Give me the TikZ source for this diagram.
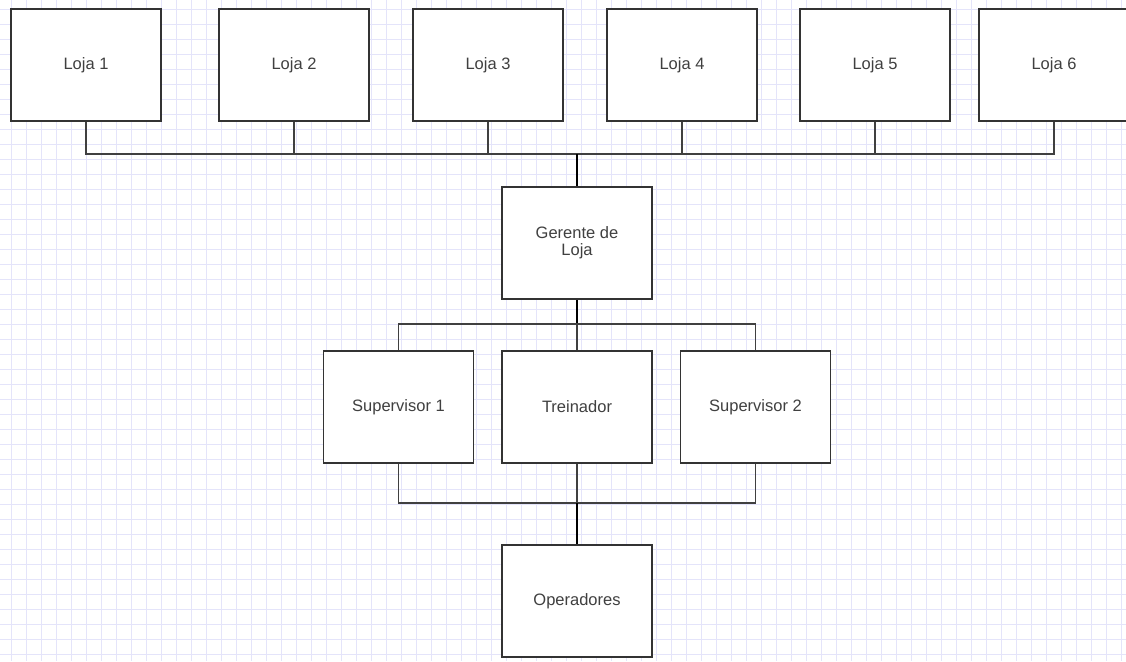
\documentclass[tikz,border=0pt]{standalone}
\usepackage{fontspec}
\setmainfont{Liberation Sans}
\usetikzlibrary{positioning}
\definecolor{gridcol}{RGB}{228,228,250}

\begin{document}
\begin{tikzpicture}[x=1pt,y=-1pt]
\tikzstyle{box}=[draw=black!80, line width=1.6pt, fill=white,
	minimum width=150pt, minimum height=112pt, text=black!75,
	font=\fontsize{16.5}{17}\selectfont, align=center]
\tikzstyle{wire}=[draw=black!75, line width=1.1pt]
\tikzstyle{trunk}=[draw=black, line width=1.7pt]
\tikzstyle{gridline}=[draw=gridcol, line width=0.9pt]
\useasboundingbox (0,0) rectangle (1126,661);
\clip (0,0) rectangle (1126,661);
% background grid
\foreach \gx in {11,26,...,1126} \draw[gridline] (\gx,0) -- (\gx,661);
\foreach \gy in {9,24,...,661} \draw[gridline] (0,\gy) -- (1126,\gy);
% stores
\foreach \n/\cx in {1/86,2/294,3/488,4/682,5/875,6/1054}
	\node[box] (loja\n) at (\cx,65) {Loja \n};
\node[box] (gerente) at (577,243) {Gerente de\\Loja};
\node[box] (sup1) at (398.5,407) {Supervisor 1};
\node[box] (treinador) at (577,407) {Treinador};
\node[box] (sup2) at (755.5,407) {Supervisor 2};
\node[box] (operadores) at (577,601) {Operadores};
% buses
\coordinate (busA) at (577,154);
\coordinate (busB) at (577,324);
\coordinate (busC) at (577,503);
\draw[wire] (loja1.south) |- (busA) -| (loja6.south);
\foreach \n in {2,3,4,5} \draw[wire] (loja\n.south) -- (loja\n.south |- busA);
\draw[trunk] (busA) -- (gerente.north);
\draw[trunk] (gerente.south) -- (busB);
\draw[wire] (sup1.north) |- (busB) -| (sup2.north);
\draw[wire] (treinador.north) -- (busB);
\draw[wire] (sup1.south) |- (busC) -| (sup2.south);
\draw[wire] (treinador.south) -- (busC);
\draw[trunk] (busC) -- (operadores.north);
\end{tikzpicture}
\end{document}
